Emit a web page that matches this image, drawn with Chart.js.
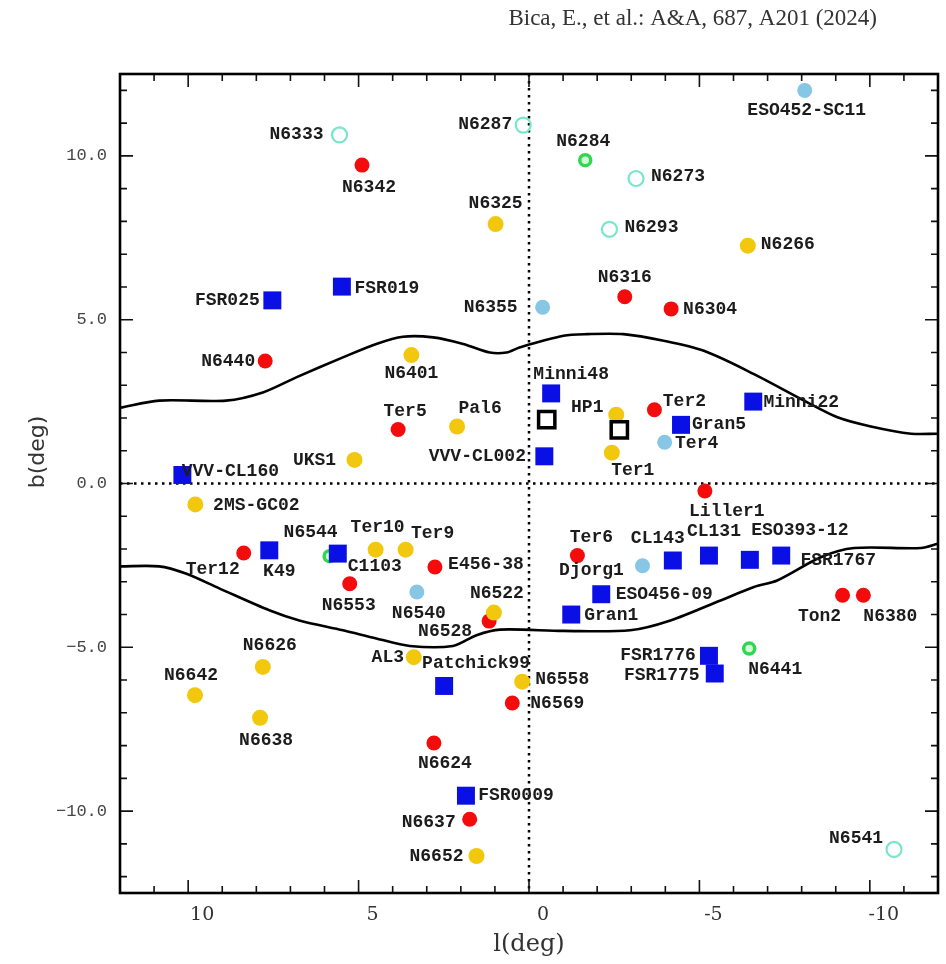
<!DOCTYPE html>
<html>
<head>
<meta charset="utf-8">
<title>Bulge clusters l-b map</title>
<script src="https://cdn.jsdelivr.net/npm/chart.js@4.4.1/dist/chart.umd.min.js"></script>
<style>
  html, body { margin: 0; padding: 0; background: #fff; }
  #wrap { width: 946px; height: 964px; }
</style>
</head>
<body>
<div id="wrap"><canvas id="map" width="946" height="964"></canvas></div>
<script>
// Cluster positions: [name, l(deg), b(deg)]
const redClusters = [
    ['N6342', 4.90, 9.72], ['N6316', -2.81, 5.70], ['N6304', -4.17, 5.33],
    ['N6440', 7.74, 3.74], ['Ter5', 3.84, 1.65], ['Ter2', -3.68, 2.25],
    ['Liller1', -5.16, -0.23], ['Ter12', 8.37, -2.12], ['E456-38', 2.76, -2.55],
    ['N6553', 5.26, -3.06], ['Ter6', -1.42, -2.20], ['Ton2', -9.20, -3.41],
    ['N6380', -9.81, -3.41], ['N6528', 1.17, -4.20], ['N6569', 0.49, -6.70],
    ['N6624', 2.79, -7.92], ['N6637', 1.74, -10.25]
];

const yellowClusters = [
    ['N6325', 0.98, 7.92], ['N6266', -6.42, 7.26], ['N6401', 3.45, 3.92],
    ['Pal6', 2.11, 1.74], ['UKS1', 5.12, 0.72], ['HP1', -2.56, 2.10],
    ['Ter1', -2.43, 0.94], ['2MS-GC02', 9.79, -0.64], ['Ter10', 4.50, -2.02],
    ['Ter9', 3.62, -2.02], ['N6522', 1.03, -3.94], ['AL3', 3.38, -5.30],
    ['N6558', 0.20, -6.05], ['N6626', 7.81, -5.60], ['N6642', 9.80, -6.46],
    ['N6638', 7.89, -7.15], ['N6652', 1.54, -11.37]
];

const blueClusters = [
    ['ESO452-SC11', -8.09, 12.00], ['N6355', -0.40, 5.38], ['Ter4', -3.98, 1.26],
    ['Djorg1', -3.33, -2.51], ['N6540', 3.29, -3.31]
];

const openClusters = [
    ['N6333', 5.56, 10.64], ['N6287', 0.17, 10.94], ['N6273', -3.14, 9.31],
    ['N6293', -2.36, 7.76], ['N6541', -10.71, -11.17]
];

const greenClusters = [
    ['N6284', -1.65, 9.87], ['N6544', 5.85, -2.22], ['N6441', -6.46, -5.04]
];

const candidates = [
    ['FSR019', 5.49, 6.01], ['FSR025', 7.53, 5.59], ['Minni48', -0.65, 2.75],
    ['Minni22', -6.58, 2.50], ['Gran5', -4.46, 1.79], ['VVV-CL002', -0.45, 0.83],
    ['VVV-CL160', 10.17, 0.26], ['K49', 7.62, -2.04], ['C1103', 5.61, -2.14],
    ['CL143', -4.22, -2.35], ['CL131', -5.28, -2.20], ['ESO393-12', -6.48, -2.33],
    ['FSR1767', -7.40, -2.20], ['ESO456-09', -2.12, -3.38], ['Gran1', -1.24, -4.00],
    ['Patchick99', 2.49, -6.18], ['FSR1776', -5.28, -5.26], ['FSR1775', -5.45, -5.80],
    ['FSR0009', 1.85, -9.53]
];

const fields = [['', -0.52, 1.95], ['', -2.65, 1.64]];

// Boundary curves [l, b]
const upperEdge = [
    [12.0, 2.31], [10.85, 2.53], [8.89, 2.53], [7.81, 2.78], [6.83, 3.24], [5.46, 3.85],
    [4.48, 4.26], [3.70, 4.48], [2.81, 4.46], [1.93, 4.26], [1.15, 4.00], [0.66, 4.00],
    [0.26, 4.16], [-1.01, 4.51], [-1.70, 4.56], [-2.77, 4.56], [-3.95, 4.36], [-5.13, 4.05],
    [-6.60, 3.34], [-8.07, 2.53], [-9.05, 2.02], [-10.03, 1.74], [-11.21, 1.52], [-12.0, 1.52]
];
const lowerEdge = [
    [12.0, -2.53], [10.85, -2.53], [10.07, -2.75], [9.09, -3.20], [7.62, -3.87], [6.74, -4.18],
    [5.46, -4.48], [4.48, -4.73], [3.50, -4.96], [2.23, -4.96], [1.54, -4.63], [0.85, -4.46],
    [-1.01, -4.50], [-2.97, -4.48], [-4.15, -4.18], [-5.62, -3.57], [-6.60, -3.16], [-7.28, -2.96],
    [-8.56, -2.25], [-9.54, -1.97], [-11.5, -1.97], [-12.0, -1.84]
];

const xTicks = [10, 5, 0, -5, -10];
const yTicks = [10, 5, 0, -5, -10];

// Label placement: name -> [dx, dy] from the marker centre, in pixels
const labelAt = {
    'N6333': [-43, 0], 'N6342': [7, 22], 'N6325': [0, -21], 'N6287': [-38, -1],
    'FSR019': [45, 2], 'FSR025': [-45, 0], 'N6355': [-52, 0], 'ESO452-SC11': [2, 20],
    'N6284': [-2, -19], 'N6273': [42, -2], 'N6293': [42, -2], 'N6266': [40, -1],
    'N6316': [0, -19], 'N6304': [39, 1], 'N6440': [-37, 0], 'N6401': [0, 18],
    'Ter5': [7, -18], 'Pal6': [23, -18], 'UKS1': [-40, 1], 'VVV-CL002': [-67, 0],
    'VVV-CL160': [48, -4], '2MS-GC02': [61, 1], 'N6544': [-19, -24], 'Ter10': [2, -22],
    'Ter9': [27, -16], 'Ter12': [-31, 17], 'K49': [10, 21], 'C1103': [37, 13],
    'E456-38': [51, -3], 'N6553': [-1, 22], 'N6522': [3, -19], 'N6540': [2, 22],
    'N6528': [-44, 10], 'N6626': [7, -21], 'N6642': [-4, -20], 'N6638': [6, 23],
    'AL3': [-26, 0], 'Patchick99': [32, -22], 'N6624': [11, 21], 'FSR0009': [50, 0],
    'N6637': [-41, 3], 'N6652': [-40, 0], 'Minni48': [20, -19], 'HP1': [-29, -7],
    'Ter2': [30, -8], 'Gran5': [38, 0], 'Minni22': [48, 1], 'Ter4': [32, 1],
    'Ter1': [21, 18], 'Liller1': [22, 20], 'Ter6': [14, -18], 'Djorg1': [-51, 5],
    'CL143': [-15, -22], 'CL131': [5, -24], 'ESO393-12': [50, -29], 'FSR1767': [57, 5],
    'ESO456-09': [63, 0], 'Gran1': [40, 1], 'Ton2': [-23, 21], 'N6380': [27, 21],
    'FSR1776': [-51, 0], 'FSR1775': [-53, 2], 'N6441': [26, 21], 'N6558': [40, -2],
    'N6569': [45, 0], 'N6541': [-38, -11]
};

const toPoints = list => list.map(([name, l, b]) => ({ x: l, y: b, name }));
const toLine = list => list.map(([l, b]) => ({ x: l, y: b }));

function markers(list, opts, order) {
    return Object.assign({
        data: toPoints(list),
        showLine: false,
        order
    }, opts);
}

const datasets = [
    markers(fields, { pointStyle: 'rect', pointRadius: 11.5, backgroundColor: 'rgba(255,255,255,0)', borderColor: '#000', borderWidth: 3.5 }, 1),
    markers(candidates, { pointStyle: 'rect', pointRadius: 12.7, backgroundColor: '#0a0fe6', borderColor: '#0a0fe6', borderWidth: 0 }, 2),
    markers(yellowClusters, { pointStyle: 'circle', pointRadius: 8, backgroundColor: '#f2c80f', borderWidth: 0 }, 3),
    markers(redClusters, { pointStyle: 'circle', pointRadius: 7.5, backgroundColor: '#f40c0c', borderWidth: 0 }, 4),
    markers(blueClusters, { pointStyle: 'circle', pointRadius: 7.5, backgroundColor: '#88c6e6', borderWidth: 0 }, 5),
    markers(openClusters, { pointStyle: 'circle', pointRadius: 7.5, backgroundColor: 'rgba(255,255,255,0)', borderColor: '#78e6c8', borderWidth: 2.2 }, 6),
    markers(greenClusters, { pointStyle: 'circle', pointRadius: 5.5, backgroundColor: '#d8f8dc', borderColor: '#2ed850', borderWidth: 3.5 }, 7),
    { data: toLine(upperEdge), showLine: true, pointRadius: 0, borderColor: '#000', borderWidth: 2.6, tension: 0.3, order: 8 },
    { data: toLine(lowerEdge), showLine: true, pointRadius: 0, borderColor: '#000', borderWidth: 2.6, tension: 0.3, order: 9 }
];

// Zero lines, marker labels, frame with inward ticks, titles
const decorations = {
    id: 'decorations',
    beforeDatasetsDraw(chart) {
        const { ctx, chartArea: a, scales: { x, y } } = chart;
        ctx.save();
        ctx.strokeStyle = '#000';
        ctx.lineWidth = 2.5;
        ctx.setLineDash([2.5, 4.5]);
        const x0 = x.getPixelForValue(0);
        const y0 = y.getPixelForValue(0);
        ctx.beginPath();
        ctx.moveTo(x0, a.top);
        ctx.lineTo(x0, a.bottom);
        ctx.moveTo(a.left, y0);
        ctx.lineTo(a.right, y0);
        ctx.stroke();
        ctx.restore();
    },
    afterDatasetsDraw(chart) {
        const { ctx } = chart;
        ctx.save();
        ctx.font = 'bold 18px "Liberation Mono"';
        ctx.fillStyle = '#1c1c1c';
        ctx.textAlign = 'center';
        ctx.textBaseline = 'middle';
        chart.data.datasets.forEach((ds, i) => {
            const meta = chart.getDatasetMeta(i);
            ds.data.forEach((p, j) => {
                if (!p.name || !labelAt[p.name]) return;
                const el = meta.data[j];
                const [dx, dy] = labelAt[p.name];
                ctx.fillText(p.name, el.x + dx, el.y + dy);
            });
        });
        ctx.restore();
    },
    afterDraw(chart) {
        const { ctx, chartArea: a, scales: { x, y } } = chart;
        ctx.save();
        ctx.strokeStyle = '#111';
        ctx.lineWidth = 1.6;
        ctx.beginPath();
        for (let v = -12; v <= 12; v++) {
            const len = v % 5 === 0 ? 13 : 7;
            const px = x.getPixelForValue(v);
            ctx.moveTo(px, a.bottom); ctx.lineTo(px, a.bottom - len);
            ctx.moveTo(px, a.top); ctx.lineTo(px, a.top + len);
            const py = y.getPixelForValue(v);
            ctx.moveTo(a.left, py); ctx.lineTo(a.left + len, py);
            ctx.moveTo(a.right, py); ctx.lineTo(a.right - len, py);
        }
        ctx.stroke();
        ctx.lineWidth = 2.6;
        ctx.strokeStyle = '#000';
        ctx.strokeRect(a.left, a.top, a.right - a.left, a.bottom - a.top);

        ctx.fillStyle = '#333';
        ctx.textBaseline = 'middle';
        ctx.font = '23px "Liberation Serif"';
        ctx.textAlign = 'right';
        ctx.fillText('Bica, E., et al.: A&A, 687, A201 (2024)', 877, 19);

        // b axis title, rotated
        ctx.font = '22px "DejaVu Sans"';
        ctx.textAlign = 'center';
        ctx.translate(38, 452);
        ctx.rotate(-Math.PI / 2);
        ctx.fillText('b(deg)', 0, 0);
        ctx.restore();
    }
};

new Chart(document.getElementById('map'), {
    type: 'scatter',
    data: { datasets },
    options: {
        responsive: false,
        animation: false,
        devicePixelRatio: 1,
        layout: { autoPadding: false, padding: { top: 74, right: 8, bottom: 0, left: 0 } },
        plugins: {
            legend: { display: false },
            tooltip: { enabled: false }
        },
        scales: {
            x: {
                type: 'linear',
                reverse: true,
                min: -12,
                max: 12,
                afterFit: s => {
                    s.height = 71;
                    s.paddingLeft = 0;
                    s.paddingRight = 0;
                },
                afterBuildTicks: s => { s.ticks = xTicks.map(v => ({ value: v })); },
                grid: { display: false, drawTicks: false },
                border: { display: false },
                ticks: {
                    font: { family: 'DejaVu Serif', size: 19 },
                    color: '#333',
                    padding: 11,
                    labelOffset: 14,
                    maxRotation: 0
                },
                title: {
                    display: true,
                    text: 'l(deg)',
                    font: { family: 'DejaVu Serif', size: 24 },
                    color: '#333',
                    padding: { top: 0, bottom: 5 }
                }
            },
            y: {
                type: 'linear',
                min: -12.5,
                max: 12.5,
                afterFit: s => {
                    s.width = 120;
                    s.paddingTop = 0;
                    s.paddingBottom = 0;
                },
                afterBuildTicks: s => { s.ticks = yTicks.map(v => ({ value: v })); },
                grid: { display: false, drawTicks: false },
                border: { display: false },
                ticks: {
                    font: { family: 'Liberation Mono', size: 17 },
                    color: '#444',
                    padding: 13,
                    callback: v => v.toFixed(1).replace('-', '\u2212')
                }
            }
        }
    },
    plugins: [decorations]
});
</script>
</body>
</html>
